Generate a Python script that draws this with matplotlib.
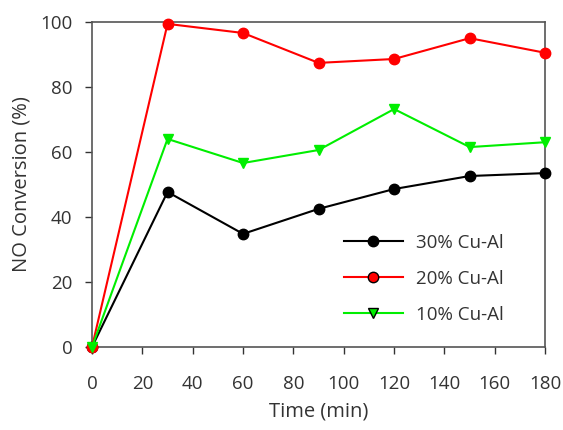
import matplotlib
matplotlib.use("Agg")
import matplotlib.pyplot as plt

time = [0, 30, 60, 90, 120, 150, 180]
cu30 = [0, 47.7, 34.8, 42.5, 48.6, 52.6, 53.5]
cu20 = [0, 99.4, 96.6, 87.4, 88.6, 95.0, 90.5]
cu10 = [0, 64.0, 56.6, 60.6, 73.2, 61.5, 63.0]
xticks = [0, 20, 40, 60, 80, 100, 120, 140, 160, 180]
yticks = [0, 20, 40, 60, 80, 100]

plt.rcParams['font.family'] = ['Open Sans', 'DejaVu Sans']
fig = plt.figure(figsize=(5.63, 4.30), dpi=100)
ax = fig.add_axes([0.1634, 0.193, 0.805, 0.756])

ax.plot(time, cu30, color='black', lw=1.5, marker='o', ms=7.5, mfc='black', mec='black',
        label='30% Cu-Al', clip_on=False, zorder=3)
ax.plot(time, cu20, color='red', lw=1.5, marker='o', ms=7.5, mfc='red', mec='red',
        label='20% Cu-Al', clip_on=False, zorder=3)
ax.plot(time, cu10, color='#00ee00', lw=1.5, marker='v', ms=7.5, mfc='#00ee00', mec='#00ee00',
        label='10% Cu-Al', clip_on=False, zorder=3)

ax.set_xlim(0, 180)
ax.set_ylim(0, 100)
ax.set_xticks(xticks)
ax.set_yticks(yticks)
ax.tick_params(axis='both', direction='out', length=5, width=1, colors='#333333', labelsize=13.5)
ax.tick_params(axis='x', pad=15)
ax.tick_params(axis='y', pad=9)
for s in ax.spines.values():
    s.set_color('#555555')
    s.set_linewidth(1.2)

ax.set_xlabel('Time (min)', fontsize=14.5, color='#333333', labelpad=6)
ax.set_ylabel('NO Conversion (%)', fontsize=14.5, color='#333333', labelpad=6)

leg = ax.legend(loc='center right', bbox_to_anchor=(0.945, 0.21), frameon=False, fontsize=13.5,
                handlelength=3.1, labelspacing=0.95, handletextpad=0.7)
for t in leg.get_texts():
    t.set_color('#333333')
for h in leg.legend_handles[1:]:
    h.set_markeredgecolor('black')
    h.set_markeredgewidth(1.0)

fig.savefig('out.png', dpi=100)
